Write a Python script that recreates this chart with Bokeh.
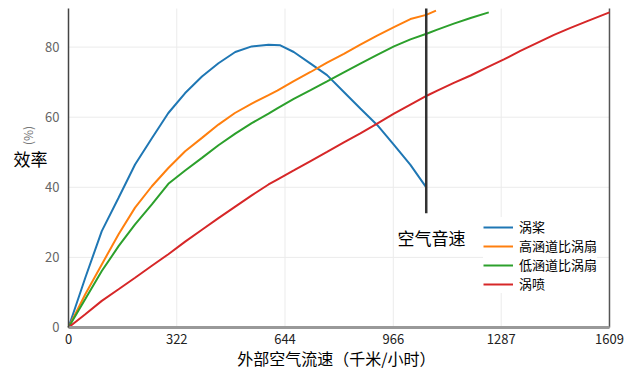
import math
from bokeh.plotting import figure
from bokeh.models import Range1d, FixedTicker, Label, Legend, LegendItem
from bokeh.embed import file_html
from bokeh.resources import INLINE

# ---- data ----
X_TICKS = [0, 322, 644, 966, 1287, 1609]
Y_TICKS = [0, 20, 40, 60, 80]

turboprop_x = [0, 50, 99, 149, 198, 248, 297, 347, 397, 446, 496, 545, 595, 630, 670, 720, 769, 819, 868, 918, 968, 1017, 1064]
turboprop_y = [0, 14.2, 27.5, 37, 46.5, 54, 61.2, 66.9, 71.6, 75.4, 78.6, 80.2, 80.7, 80.5, 78.6, 75.3, 72, 67.2, 62.5, 57.8, 52.1, 46.4, 40]

hibypass_x = [0, 50, 99, 149, 198, 248, 297, 347, 397, 446, 495, 545, 595, 621, 670, 720, 769, 819, 868, 918, 968, 1017, 1064, 1093]
hibypass_y = [0, 9.5, 18, 26.6, 34.2, 40.3, 45.5, 50.3, 54.1, 57.9, 61.2, 63.9, 66.3, 67.6, 70.3, 72.9, 75.6, 78.1, 80.7, 83.3, 85.7, 88, 89.2, 90.4]

lobypass_x = [0, 50, 99, 149, 198, 248, 297, 347, 397, 446, 496, 545, 595, 621, 670, 720, 769, 819, 868, 918, 968, 1017, 1067, 1097, 1146, 1196, 1250]
lobypass_y = [0, 8.1, 16.1, 23.2, 29.4, 35.1, 41.0, 44.8, 48.4, 52.0, 55.3, 58.3, 61.0, 62.5, 65.2, 67.7, 70.2, 72.8, 75.3, 77.8, 80.2, 82.2, 83.9, 85.0, 86.7, 88.3, 89.9]

turbojet_x = [0, 50, 99, 149, 198, 248, 297, 347, 397, 446, 496, 545, 595, 621, 670, 720, 769, 819, 868, 918, 968, 1017, 1067, 1097, 1146, 1196, 1245, 1295, 1344, 1394, 1444, 1493, 1543, 1609]
turbojet_y = [0, 3.8, 7.6, 10.9, 14.2, 17.6, 20.9, 24.5, 27.9, 31.2, 34.5, 37.7, 40.8, 42.2, 44.8, 47.5, 50.1, 52.8, 55.4, 58.2, 61.0, 63.6, 66.2, 67.6, 69.8, 71.9, 74.2, 76.5, 78.9, 81.2, 83.5, 85.5, 87.4, 89.9]

series_names = ["涡桨", "高涵道比涡扇", "低涵道比涡扇", "涡喷"]
series_colors = ["#1f77b4", "#ff7f0e", "#2ca02c", "#d62728"]

SOUND_SPEED = 1064
SOUND_LINE_Y = [32.6, 91]
SOUND_LABEL = "空气音速"
SOUND_LABEL_POS = (1080, 25.7)

X_LABEL = "外部空气流速（千米/小时）"
Y_LABEL = "效率"
Y_UNIT = "(%)"

X_MAX = 1609
Y_TOP = 91          # top of the plotting area
# view ranges (leave room around the plotting area for axis texts)
VIEW_X = (-202.2, 1671.5)
VIEW_Y = (-13.7, 93.3)

FONT = "Noto Sans CJK SC"
GRID = "#ebebeb"

p = figure(frame_width=630, frame_height=375, output_backend="svg", toolbar_location=None,
           x_range=Range1d(*VIEW_X), y_range=Range1d(*VIEW_Y),
           min_border_left=0, min_border_right=0, min_border_top=0, min_border_bottom=0)
p.outline_line_color = None
p.background_fill_color = "white"
p.border_fill_color = "white"
p.grid.visible = False

# grid lines limited to the plotting area
gx = X_TICKS[1:-1]
p.segment(x0=gx, x1=gx, y0=[0] * len(gx), y1=[Y_TOP] * len(gx),
          line_color=GRID, line_width=1, level="underlay")
p.segment(x0=[0] * len(Y_TICKS), x1=[X_MAX] * len(Y_TICKS), y0=Y_TICKS, y1=Y_TICKS,
          line_color=GRID, line_width=1, level="underlay")

# x axis pinned at y = 0
p.xaxis.fixed_location = 0
p.xaxis.ticker = FixedTicker(ticks=X_TICKS)
p.xaxis.bounds = (0, X_MAX)
p.xaxis.major_label_text_font = FONT
p.xaxis.major_label_text_font_size = "13px"
p.xaxis.major_label_text_color = "#222222"
p.xaxis.major_label_standoff = 1
p.xaxis.axis_line_color = "#999999"
p.xaxis.axis_line_width = 3
p.xaxis.major_tick_line_color = None
p.xaxis.minor_tick_line_color = None

# y axis pinned at x = 0
p.yaxis.fixed_location = 0
p.yaxis.ticker = FixedTicker(ticks=Y_TICKS)
p.yaxis.bounds = (0, Y_TOP)
p.yaxis.major_label_text_font = FONT
p.yaxis.major_label_text_font_size = "13px"
p.yaxis.major_label_text_color = "#666666"
p.yaxis.major_label_standoff = 3
p.yaxis.axis_line_color = "#444444"
p.yaxis.axis_line_width = 1.5
p.yaxis.major_tick_line_color = None
p.yaxis.minor_tick_line_color = None

# right border line of the plotting area
p.segment(x0=[X_MAX], x1=[X_MAX], y0=[0], y1=[Y_TOP], line_color="#555555", line_width=1.5)

# curves
xs = [turboprop_x, hibypass_x, lobypass_x, turbojet_x]
ys = [turboprop_y, hibypass_y, lobypass_y, turbojet_y]
items = []
for name, c, x, y in zip(series_names, series_colors, xs, ys):
    r = p.line(x, y, line_color=c, line_width=2)
    items.append(LegendItem(label=name, renderers=[r]))

# sound speed line
p.line([SOUND_SPEED, SOUND_SPEED], SOUND_LINE_Y, line_color="#333333", line_width=2.5)
p.add_layout(Label(x=SOUND_LABEL_POS[0], y=SOUND_LABEL_POS[1], text=SOUND_LABEL,
                   text_font=FONT, text_font_size="17px", text_color="#000000",
                   text_align="center", text_baseline="middle",
                   background_fill_color="white"))

# axis titles
p.add_layout(Label(x=797, y=-8.6, text=X_LABEL, text_font=FONT, text_font_size="16px",
                   text_color="#000000", text_align="center", text_baseline="middle"))
p.add_layout(Label(x=-113, y=48.2, text=Y_LABEL, text_font=FONT, text_font_size="17px",
                   text_color="#000000", text_align="center", text_baseline="middle"))
p.add_layout(Label(x=-122, y=54.8, text=Y_UNIT, text_font=FONT, text_font_size="12px",
                   text_color="#777777", text_align="center", text_baseline="middle",
                   angle=math.pi / 2))

legend = Legend(items=items, location=(483, 82), orientation="vertical")
legend.border_line_color = None
legend.background_fill_color = "white"
legend.background_fill_alpha = 1
legend.padding = 0
legend.margin = 0
legend.spacing = 0
legend.glyph_width = 30
legend.glyph_height = 16
legend.label_height = 16
legend.label_standoff = 6
legend.label_text_font = FONT
legend.label_text_font_size = "13px"
legend.label_text_color = "#000000"
p.add_layout(legend, "center")

open("out.html", "w").write(file_html(p, INLINE))
